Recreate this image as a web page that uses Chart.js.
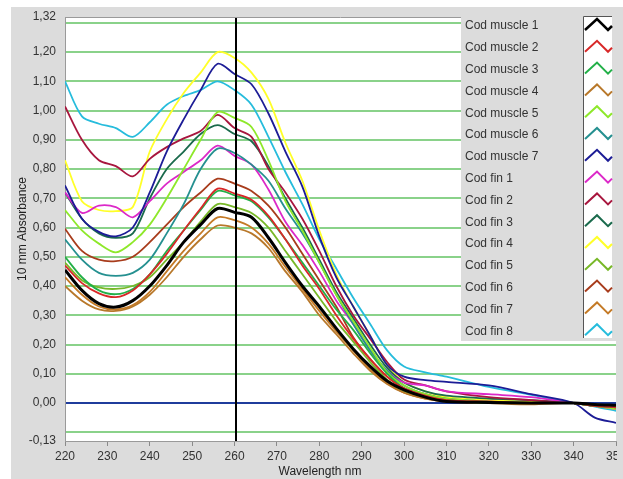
<!DOCTYPE html>
<html>
<head>
<meta charset="utf-8">
<script src="https://cdn.jsdelivr.net/npm/chart.js@4.4.1/dist/chart.umd.min.js"></script>
<style>
  html, body { margin: 0; padding: 0; background: #fff; overflow: hidden; }
  #wrap { position: relative; width: 623px; height: 479px; overflow: hidden; }
  #panel { position: absolute; left: 11px; top: 7px; width: 640px; height: 480px; background: #dcdcdc; }
  #box { position: absolute; left: 0; top: 0; width: 617px; height: 479px; overflow: hidden; }
</style>
</head>
<body>
<div id="wrap">
  <div id="panel"></div>
  <div id="box"><canvas id="spectra" width="630" height="479"></canvas></div>
</div>
<script>
// wavelengths (nm) the curves were read at
const wavelengths = [220,224,228,232,236,240,244,248,252,256,260,264,268,272,276,280,284,288,292,296,300,305,310,320,330,340,345,350];

const codMuscle1 = [0.455,0.385,0.34,0.328,0.35,0.40,0.47,0.55,0.61,0.665,0.652,0.635,0.565,0.48,0.40,0.33,0.255,0.185,0.125,0.075,0.045,0.02,0.005,0.002,0.0,0.0,-0.005,-0.008];
const codMuscle2 = [0.47,0.41,0.375,0.362,0.385,0.44,0.51,0.59,0.665,0.733,0.716,0.695,0.64,0.56,0.47,0.39,0.30,0.22,0.15,0.09,0.05,0.025,0.01,0.005,0.0,0.0,-0.01,-0.015];
const codMuscle3 = [0.50,0.43,0.385,0.372,0.39,0.44,0.52,0.59,0.66,0.725,0.71,0.69,0.635,0.56,0.48,0.40,0.32,0.25,0.17,0.10,0.05,0.02,0.01,0.0,0.0,0.0,-0.01,-0.015];
const codMuscle4 = [0.40,0.35,0.32,0.315,0.33,0.37,0.43,0.50,0.56,0.607,0.60,0.58,0.53,0.45,0.38,0.30,0.235,0.17,0.11,0.065,0.035,0.015,0.005,0.0,-0.005,0.0,-0.01,-0.015];
const codMuscle5 = [0.66,0.59,0.545,0.515,0.55,0.61,0.70,0.80,0.90,0.995,0.975,0.944,0.83,0.69,0.59,0.48,0.37,0.28,0.19,0.105,0.06,0.03,0.015,0.005,0.0,0.0,-0.01,-0.02];
const codMuscle6 = [0.56,0.49,0.445,0.435,0.445,0.49,0.58,0.68,0.80,0.87,0.855,0.815,0.76,0.665,0.58,0.48,0.37,0.27,0.18,0.11,0.06,0.03,0.015,0.005,0.0,0.0,-0.01,-0.015];
const codMuscle7 = [0.744,0.63,0.585,0.57,0.60,0.72,0.86,0.97,1.07,1.16,1.125,1.09,0.99,0.86,0.74,0.57,0.43,0.33,0.23,0.13,0.09,0.078,0.072,0.06,0.03,0.0,-0.05,-0.068];
const codFin1 = [0.72,0.65,0.675,0.67,0.635,0.69,0.75,0.79,0.83,0.88,0.845,0.815,0.73,0.62,0.54,0.45,0.35,0.27,0.18,0.11,0.07,0.06,0.04,0.03,0.02,0.0,-0.01,-0.02];
const codFin2 = [1.014,0.90,0.83,0.81,0.775,0.835,0.875,0.905,0.93,0.985,0.94,0.91,0.80,0.72,0.63,0.52,0.40,0.30,0.22,0.14,0.08,0.06,0.04,0.02,0.01,0.0,-0.005,-0.01];
const codFin3 = [0.72,0.63,0.58,0.565,0.58,0.70,0.80,0.86,0.92,0.95,0.92,0.895,0.81,0.70,0.60,0.49,0.38,0.29,0.20,0.12,0.07,0.04,0.025,0.015,0.01,0.0,-0.01,-0.015];
const codFin4 = [0.83,0.69,0.66,0.656,0.67,0.86,0.97,1.06,1.13,1.20,1.18,1.13,1.04,0.89,0.76,0.59,0.44,0.33,0.23,0.13,0.07,0.04,0.02,0.01,0.005,0.0,-0.01,-0.02];
const codFin5 = [0.48,0.42,0.395,0.39,0.40,0.43,0.49,0.55,0.62,0.68,0.67,0.65,0.60,0.52,0.44,0.36,0.28,0.21,0.14,0.08,0.04,0.02,0.01,0.0,0.005,0.0,-0.005,-0.01];
const codFin6 = [0.596,0.52,0.49,0.485,0.50,0.55,0.61,0.67,0.72,0.767,0.75,0.725,0.675,0.60,0.51,0.42,0.33,0.225,0.15,0.09,0.05,0.03,0.015,0.005,0.0,0.0,-0.01,-0.01];
const codFin7 = [0.43,0.37,0.33,0.32,0.335,0.38,0.45,0.52,0.58,0.635,0.625,0.60,0.545,0.465,0.39,0.315,0.245,0.18,0.115,0.07,0.035,0.015,0.005,0.0,0.0,0.0,-0.01,-0.02];
const codFin8 = [1.10,0.98,0.955,0.94,0.91,0.96,1.02,1.05,1.07,1.10,1.07,1.02,0.91,0.79,0.68,0.56,0.46,0.36,0.27,0.18,0.125,0.105,0.09,0.055,0.028,0.0,-0.012,-0.027];

const seriesNames = ["Cod muscle 1","Cod muscle 2","Cod muscle 3","Cod muscle 4","Cod muscle 5","Cod muscle 6","Cod muscle 7",
                     "Cod fin 1","Cod fin 2","Cod fin 3","Cod fin 4","Cod fin 5","Cod fin 6","Cod fin 7","Cod fin 8"];
const seriesValues = [codMuscle1,codMuscle2,codMuscle3,codMuscle4,codMuscle5,codMuscle6,codMuscle7,
                      codFin1,codFin2,codFin3,codFin4,codFin5,codFin6,codFin7,codFin8];
const seriesColors = ["#000000","#d82828","#22b048","#b8782a","#8ee82a","#259090","#1c1c96",
                      "#dc28c8","#a8163e","#1a6a4c","#ffff28","#78b828","#a83c1c","#c47a26","#26bcdc"];

// y axis: grid every 0.1 plus the two bounds; only some carry a label
const yMin = -0.13, yMax = 1.32;
const yGridValues = [-0.13,-0.1,0,0.1,0.2,0.3,0.4,0.5,0.6,0.7,0.8,0.9,1.0,1.1,1.2,1.3,1.32];
const yLabelValues = [-0.13,0,0.1,0.2,0.3,0.4,0.5,0.6,0.7,0.8,0.9,1.0,1.1,1.2,1.32];
const cursorWavelength = 260;

const FONT = "'Liberation Sans', Arial, sans-serif";

const datasets = seriesNames.map((name, i) => ({
    label: name,
    data: wavelengths.map((w, j) => ({ x: w, y: seriesValues[i][j] })),
    borderColor: seriesColors[i],
    borderWidth: i === 0 ? 3 : 1.8,
    pointRadius: 0,
    tension: 0.3,
    fill: false
}));

const decor = {
    id: "decor",
    beforeDraw(chart) {
        const { ctx, chartArea: a } = chart;
        ctx.save();
        ctx.fillStyle = "#ffffff";
        ctx.fillRect(a.left, a.top, a.right - a.left, a.bottom - a.top);
        ctx.restore();
    },
    afterDatasetsDraw(chart) {
        const { ctx, chartArea: a, scales } = chart;
        ctx.save();

        // cursor line
        const cx = Math.round(scales.x.getPixelForValue(cursorWavelength)) + 1;
        ctx.strokeStyle = "#000";
        ctx.lineWidth = 2;
        ctx.beginPath();
        ctx.moveTo(cx, a.top);
        ctx.lineTo(cx, a.bottom);
        ctx.stroke();

        // top frame line
        ctx.strokeStyle = "#9a9a9a";
        ctx.lineWidth = 1;
        ctx.beginPath();
        ctx.moveTo(a.left, a.top + 0.5);
        ctx.lineTo(a.right, a.top + 0.5);
        ctx.stroke();

        // legend
        const lx = 461, ly = 10, lw = 156, lh = 331;
        ctx.fillStyle = "#dcdcdc";
        ctx.fillRect(lx, ly, lw, lh);
        const sx = 583, sy = 16, sw = 29, sh = 322;
        ctx.fillStyle = "#ffffff";
        ctx.fillRect(sx, sy, sw, sh);
        ctx.strokeStyle = "#555";
        ctx.beginPath();
        ctx.moveTo(sx + 0.5, sy + sh);
        ctx.lineTo(sx + 0.5, sy + 0.5);
        ctx.lineTo(sx + sw, sy + 0.5);
        ctx.stroke();

        const rowH = 21.8;
        ctx.font = "12px " + FONT;
        ctx.textAlign = "left";
        ctx.textBaseline = "middle";
        chart.data.datasets.forEach((ds, i) => {
            const ry = 25 + i * rowH;
            ctx.fillStyle = "#333";
            ctx.fillText(ds.label, 465, ry + 1);
            ctx.strokeStyle = ds.borderColor;
            ctx.lineWidth = i === 0 ? 2.5 : 2;
            ctx.beginPath();
            ctx.moveTo(585, ry + 5);
            ctx.lineTo(597, ry - 6);
            ctx.lineTo(608, ry + 5);
            ctx.lineTo(612, ry + 1);
            ctx.stroke();
        });

        // axis titles
        ctx.fillStyle = "#222";
        ctx.font = "12px " + FONT;
        ctx.textAlign = "center";
        ctx.textBaseline = "middle";
        ctx.fillText("Wavelength nm", 320, 472);
        ctx.translate(23, (a.top + a.bottom) / 2);
        ctx.rotate(-Math.PI / 2);
        ctx.fillText("10 mm Absorbance", 0, 0);

        ctx.restore();
    }
};

new Chart(document.getElementById("spectra"), {
    type: "line",
    data: { datasets: datasets },
    options: {
        responsive: false,
        animation: false,
        layout: { padding: { top: 17, right: 14, left: 0, bottom: 0 } },
        plugins: { legend: { display: false }, tooltip: { enabled: false } },
        scales: {
            x: {
                type: "linear",
                min: 220,
                max: 350,
                afterFit: (s) => { s.height = 38; },
                ticks: { stepSize: 10, color: "#333", font: { size: 12, family: FONT }, padding: 3, maxRotation: 0 },
                grid: { drawOnChartArea: false, drawTicks: true, tickLength: 5, tickColor: "#8a8a8a" },
                border: { color: "#9a9a9a" }
            },
            y: {
                type: "linear",
                min: yMin,
                max: yMax,
                afterFit: (s) => { s.width = 65; },
                afterBuildTicks: (s) => { s.ticks = yGridValues.map(v => ({ value: v })); },
                ticks: {
                    color: "#333",
                    font: { size: 12, family: FONT },
                    padding: 9,
                    autoSkip: false,
                    callback: (v) => yLabelValues.some(l => Math.abs(l - v) < 1e-9)
                        ? v.toFixed(2).replace(".", ",") : ""
                },
                grid: {
                    drawTicks: false,
                    color: (c) => {
                        const v = c.tick ? c.tick.value : null;
                        if (v === null || v === yMin || v === yMax) return "rgba(0,0,0,0)";
                        return Math.abs(v) < 1e-9 ? "#1f3c9c" : "#8ad28a";
                    },
                    lineWidth: 2
                },
                border: { color: "#9a9a9a" }
            }
        }
    },
    plugins: [decor]
});
</script>
</body>
</html>
